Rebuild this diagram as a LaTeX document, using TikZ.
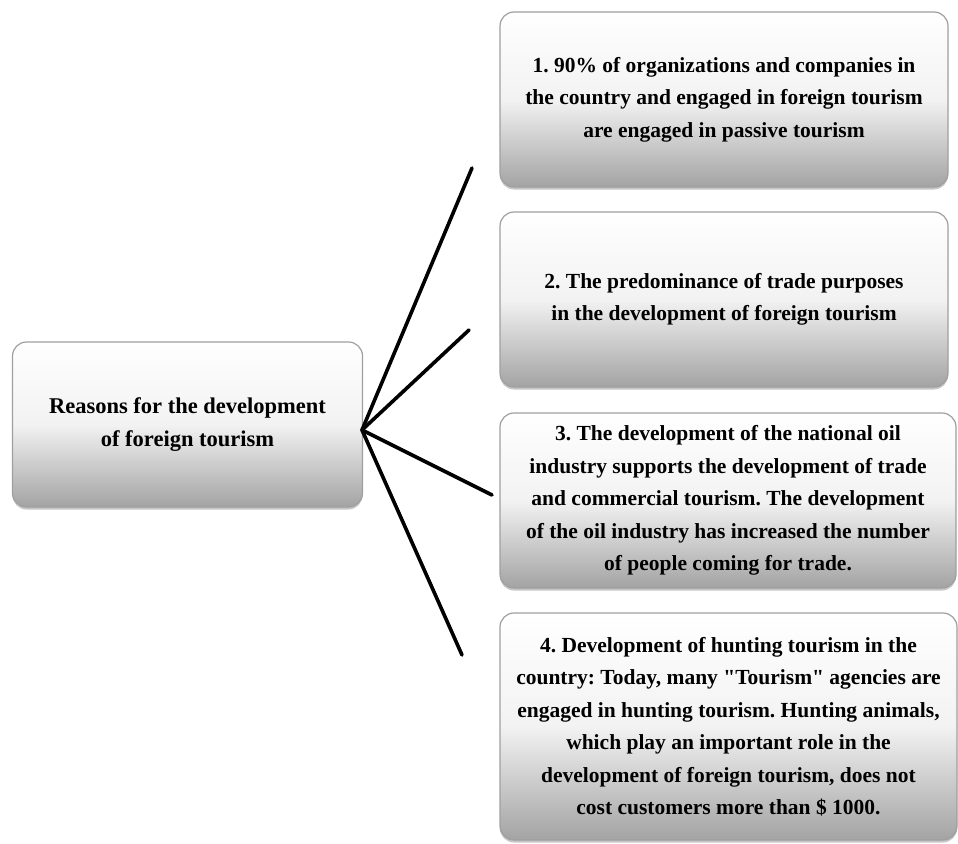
\documentclass[tikz,border=0pt]{standalone}
\usepackage{fontspec}
\newfontfamily\boxfont{Liberation Serif}
\usetikzlibrary{shadows}

\begin{document}
\begin{tikzpicture}[x=1pt, y=-1pt,
    box/.style={rounded corners=14pt, draw=gray!75, line width=1.2pt,
      top color=white, bottom color=gray!72, middle color=white!90!gray,
      drop shadow={opacity=0.45, shadow xshift=0pt, shadow yshift=-2.5pt},
      align=center, inner sep=0pt,
      font=\boxfont\fontsize{21.5}{32.5}\selectfont\bfseries\frenchspacing},
    spoke/.style={line width=3.6pt, line cap=round}]
    \useasboundingbox (0,0) rectangle (958,843);
    % Left box
    \node[box, minimum width=350pt, minimum height=165pt,
      font=\boxfont\fontsize{22.5}{33}\selectfont\bfseries] (reasons) at (187.5,424.5)
      {Reasons for the development\\of foreign tourism};
    % Right boxes
    \node[box, minimum width=448pt, minimum height=175pt] (passive) at (724,99.5)
      {1. 90\% of organizations and companies in\\the country and engaged in foreign tourism\\are engaged in passive tourism};
    \node[box, minimum width=448pt, minimum height=175pt] (trade) at (724,299.5)
      {2. The predominance of trade purposes\\in the development of foreign tourism};
    \node[box, minimum width=456pt, minimum height=175pt] (oil) at (728,500.5)
      {3. The development of the national oil\\industry supports the development of trade\\and commercial tourism. The development\\of the oil industry has increased the number\\of people coming for trade.};
    \node[box, minimum width=457pt, minimum height=227pt] (hunting) at (728.5,726.5)
      {4. Development of hunting tourism in the\\country: Today, many "Tourism" agencies are\\engaged in hunting tourism. Hunting animals,\\which play an important role in the\\development of foreign tourism, does not\\cost customers more than \$ 1000.};
    % Spokes
    \coordinate (hub) at (362,430);
    \coordinate (end1) at (472,168);
    \coordinate (end2) at (469,330);
    \coordinate (end3) at (492,495);
    \coordinate (end4) at (462,655);
    \foreach \e in {end1,end2,end3,end4}
      \draw[spoke] (hub) -- (\e);
  \end{tikzpicture}
\end{document}
